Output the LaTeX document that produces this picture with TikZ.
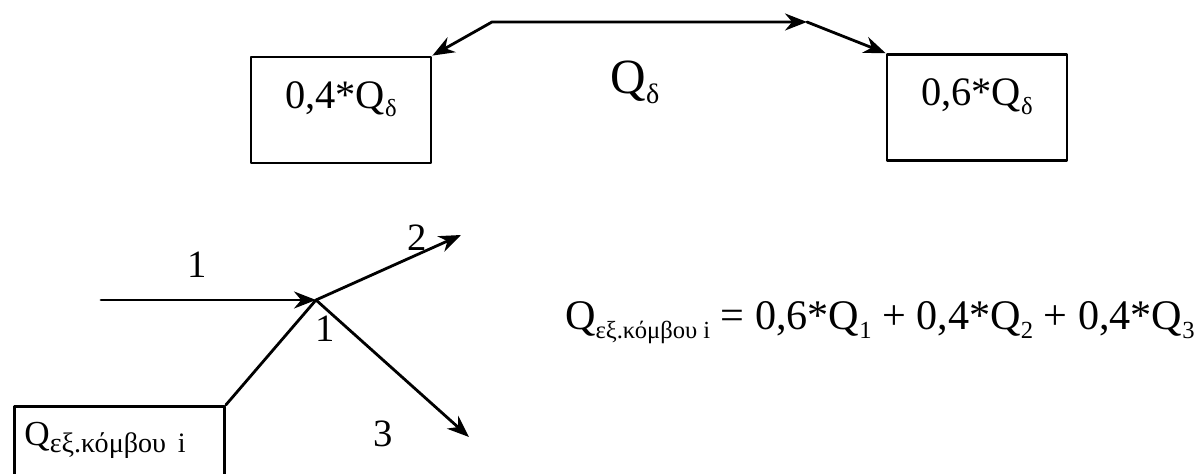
\documentclass[tikz,border=0pt]{standalone}
\usepackage{fontspec}
\setmainfont{Liberation Serif}
\usetikzlibrary{arrows.meta,positioning}
\newcommand{\subtxt}[2][7]{\raisebox{-0.45ex}{\fontsize{#1}{#1}\selectfont #2}}

\begin{document}
\begin{tikzpicture}[>={Stealth[length=2.2mm,width=1.7mm]},thick,line cap=round,line join=round,
 box/.style={draw,minimum width=1.8cm,minimum height=1.06cm,inner sep=0pt,text depth=0.3cm,font=\fontsize{11.5}{13}\selectfont},
 num/.style={font=\fontsize{11}{13}\selectfont,inner sep=1pt}]
\useasboundingbox (0,0) rectangle (11.99,4.74);
\clip (0,0) rectangle (11.99,4.74);
% Podział przepływu Q_delta między dwa węzły.
\node[box] (lbox) at (3.41,3.64) {0,4*Q\subtxt{δ}};
\node[box] (rbox) at (9.77,3.665) {0,6*Q\subtxt{δ}};
\coordinate (bend) at (4.92,4.52);
\coordinate (mid) at (8.07,4.52);
\draw[<->] (lbox.north east) -- (bend) -- (mid);
\draw[->] (mid) -- (rbox.north west);
\node[font=\fontsize{14}{16}\selectfont,inner sep=0pt] (qd) at (6.35,3.92) {Q\subtxt[8]{δ}};
% Węzeł i z dopływem 1 i odpływami 2, 3.
\coordinate (node) at (3.16,1.74);
\coordinate (in1) at (1.01,1.74);
\coordinate (out2) at (4.61,2.39);
\coordinate (out3) at (4.69,0.37);
\node[draw,anchor=north west,minimum width=2.1cm,minimum height=0.9cm,inner xsep=0.08cm,
 text depth=0.36cm,text width=1.9cm,align=left,font=\fontsize{10}{11}\selectfont]
 (qout) at (0.13,0.69) {Q\subtxt[8]{εξ.κόμβου i}};
\draw[->] (in1) -- (node);
\draw (qout.north east) -- (node);
\draw[->] (node) -- (out2);
\draw[->] (node) -- (out3);
\node[num] (l1) at (1.97,2.09) {1};
\node[num] (l2) at (4.17,2.36) {2};
\node[num] (ln) at (3.25,1.45) {1};
\node[num] (l3) at (3.83,0.40) {3};
\node[anchor=base east,inner sep=0pt,font=\fontsize{12}{14}\selectfont] (eq) at (11.96,1.44)
 {Q\subtxt{εξ.κόμβου i} = 0,6*Q\subtxt{1} + 0,4*Q\subtxt{2} + 0,4*Q\subtxt{3}};
\end{tikzpicture}
\end{document}
